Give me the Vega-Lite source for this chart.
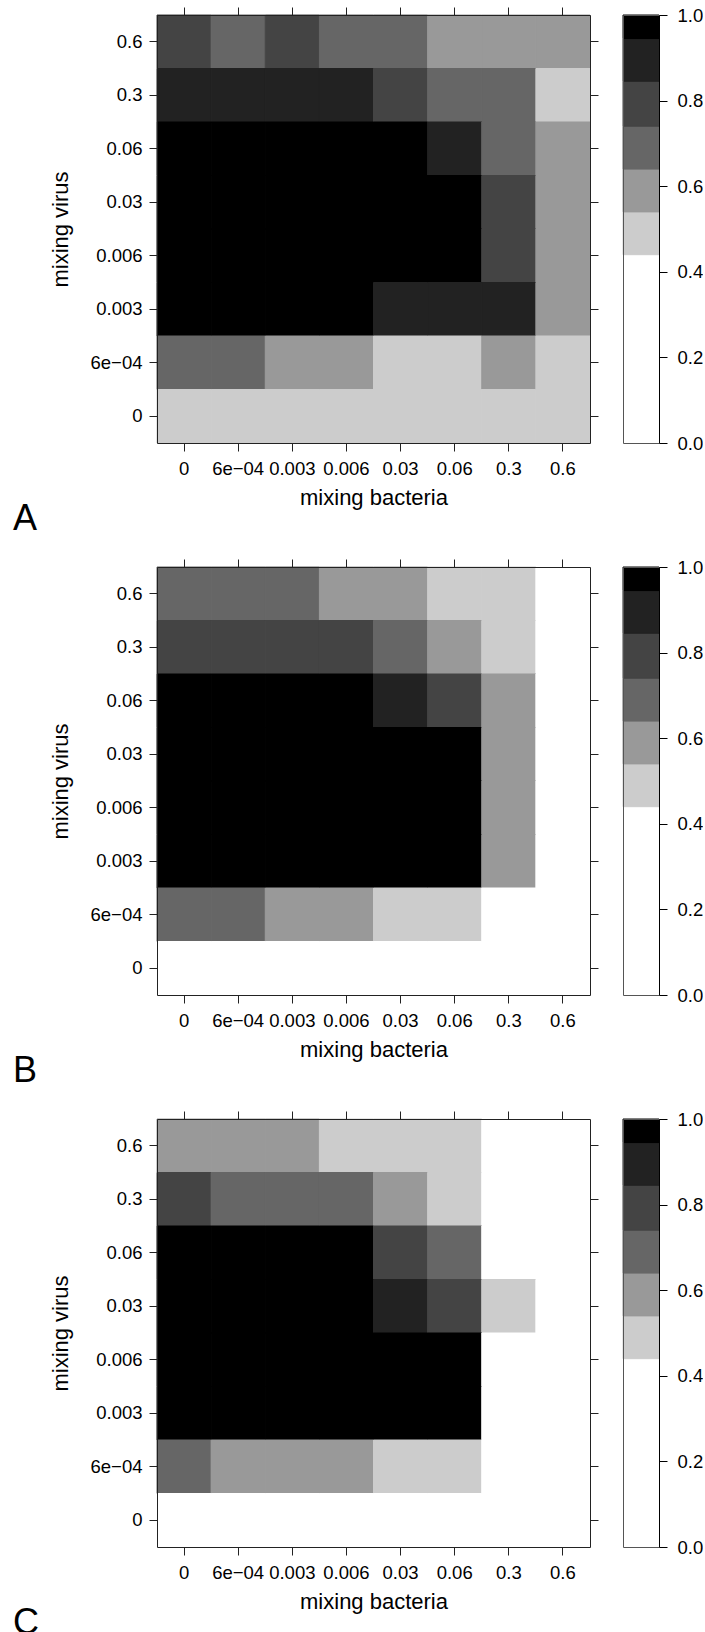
{
 "$schema": "https://vega.github.io/schema/vega-lite/v6.json",
 "padding": {"left": 13, "top": 6, "right": 0, "bottom": 0},
 "background": "white",
 "config": {
  "font": "Liberation Sans",
  "view": {"stroke": null},
  "axis": {"domain": true, "domainColor": "#222", "domainWidth": 1, "grid": false, "tickSize": 8, "tickColor": "#222", "tickWidth": 1, "labelFont": "Liberation Sans", "labelFontSize": 18.5, "labelColor": "#000", "titleFont": "Liberation Sans", "titleFontSize": 22, "titleFontWeight": "normal", "titleColor": "#000"},
  "title": {"font": "Liberation Sans", "fontSize": 36, "fontWeight": "normal", "color": "#000"}
 },
 "datasets": {
  "bins": [
   {"lo": 0, "hi": 0.44, "p": 0.3},
   {"lo": 0.44, "hi": 0.54, "p": 0.5},
   {"lo": 0.54, "hi": 0.64, "p": 0.6},
   {"lo": 0.64, "hi": 0.74, "p": 0.7},
   {"lo": 0.74, "hi": 0.845, "p": 0.8},
   {"lo": 0.845, "hi": 0.945, "p": 0.9},
   {"lo": 0.945, "hi": 1, "p": 0.98}
  ],
  "A": [
   {"v":"0.6","b":"0","p":0.8},{"v":"0.6","b":"6e\u221204","p":0.7},{"v":"0.6","b":"0.003","p":0.8},{"v":"0.6","b":"0.006","p":0.7},{"v":"0.6","b":"0.03","p":0.7},{"v":"0.6","b":"0.06","p":0.6},{"v":"0.6","b":"0.3","p":0.6},{"v":"0.6","b":"0.6","p":0.6},
   {"v":"0.3","b":"0","p":0.9},{"v":"0.3","b":"6e\u221204","p":0.9},{"v":"0.3","b":"0.003","p":0.9},{"v":"0.3","b":"0.006","p":0.9},{"v":"0.3","b":"0.03","p":0.8},{"v":"0.3","b":"0.06","p":0.7},{"v":"0.3","b":"0.3","p":0.7},{"v":"0.3","b":"0.6","p":0.5},
   {"v":"0.06","b":"0","p":0.98},{"v":"0.06","b":"6e\u221204","p":0.98},{"v":"0.06","b":"0.003","p":0.98},{"v":"0.06","b":"0.006","p":0.98},{"v":"0.06","b":"0.03","p":0.98},{"v":"0.06","b":"0.06","p":0.9},{"v":"0.06","b":"0.3","p":0.7},{"v":"0.06","b":"0.6","p":0.6},
   {"v":"0.03","b":"0","p":0.98},{"v":"0.03","b":"6e\u221204","p":0.98},{"v":"0.03","b":"0.003","p":0.98},{"v":"0.03","b":"0.006","p":0.98},{"v":"0.03","b":"0.03","p":0.98},{"v":"0.03","b":"0.06","p":0.98},{"v":"0.03","b":"0.3","p":0.8},{"v":"0.03","b":"0.6","p":0.6},
   {"v":"0.006","b":"0","p":0.98},{"v":"0.006","b":"6e\u221204","p":0.98},{"v":"0.006","b":"0.003","p":0.98},{"v":"0.006","b":"0.006","p":0.98},{"v":"0.006","b":"0.03","p":0.98},{"v":"0.006","b":"0.06","p":0.98},{"v":"0.006","b":"0.3","p":0.8},{"v":"0.006","b":"0.6","p":0.6},
   {"v":"0.003","b":"0","p":0.98},{"v":"0.003","b":"6e\u221204","p":0.98},{"v":"0.003","b":"0.003","p":0.98},{"v":"0.003","b":"0.006","p":0.98},{"v":"0.003","b":"0.03","p":0.9},{"v":"0.003","b":"0.06","p":0.9},{"v":"0.003","b":"0.3","p":0.9},{"v":"0.003","b":"0.6","p":0.6},
   {"v":"6e\u221204","b":"0","p":0.7},{"v":"6e\u221204","b":"6e\u221204","p":0.7},{"v":"6e\u221204","b":"0.003","p":0.6},{"v":"6e\u221204","b":"0.006","p":0.6},{"v":"6e\u221204","b":"0.03","p":0.5},{"v":"6e\u221204","b":"0.06","p":0.5},{"v":"6e\u221204","b":"0.3","p":0.6},{"v":"6e\u221204","b":"0.6","p":0.5},
   {"v":"0","b":"0","p":0.5},{"v":"0","b":"6e\u221204","p":0.5},{"v":"0","b":"0.003","p":0.5},{"v":"0","b":"0.006","p":0.5},{"v":"0","b":"0.03","p":0.5},{"v":"0","b":"0.06","p":0.5},{"v":"0","b":"0.3","p":0.5},{"v":"0","b":"0.6","p":0.5}
  ],
  "B": [
   {"v":"0.6","b":"0","p":0.7},{"v":"0.6","b":"6e\u221204","p":0.7},{"v":"0.6","b":"0.003","p":0.7},{"v":"0.6","b":"0.006","p":0.6},{"v":"0.6","b":"0.03","p":0.6},{"v":"0.6","b":"0.06","p":0.5},{"v":"0.6","b":"0.3","p":0.5},{"v":"0.6","b":"0.6","p":0.3},
   {"v":"0.3","b":"0","p":0.8},{"v":"0.3","b":"6e\u221204","p":0.8},{"v":"0.3","b":"0.003","p":0.8},{"v":"0.3","b":"0.006","p":0.8},{"v":"0.3","b":"0.03","p":0.7},{"v":"0.3","b":"0.06","p":0.6},{"v":"0.3","b":"0.3","p":0.5},{"v":"0.3","b":"0.6","p":0.3},
   {"v":"0.06","b":"0","p":0.98},{"v":"0.06","b":"6e\u221204","p":0.98},{"v":"0.06","b":"0.003","p":0.98},{"v":"0.06","b":"0.006","p":0.98},{"v":"0.06","b":"0.03","p":0.9},{"v":"0.06","b":"0.06","p":0.8},{"v":"0.06","b":"0.3","p":0.6},{"v":"0.06","b":"0.6","p":0.3},
   {"v":"0.03","b":"0","p":0.98},{"v":"0.03","b":"6e\u221204","p":0.98},{"v":"0.03","b":"0.003","p":0.98},{"v":"0.03","b":"0.006","p":0.98},{"v":"0.03","b":"0.03","p":0.98},{"v":"0.03","b":"0.06","p":0.98},{"v":"0.03","b":"0.3","p":0.6},{"v":"0.03","b":"0.6","p":0.3},
   {"v":"0.006","b":"0","p":0.98},{"v":"0.006","b":"6e\u221204","p":0.98},{"v":"0.006","b":"0.003","p":0.98},{"v":"0.006","b":"0.006","p":0.98},{"v":"0.006","b":"0.03","p":0.98},{"v":"0.006","b":"0.06","p":0.98},{"v":"0.006","b":"0.3","p":0.6},{"v":"0.006","b":"0.6","p":0.3},
   {"v":"0.003","b":"0","p":0.98},{"v":"0.003","b":"6e\u221204","p":0.98},{"v":"0.003","b":"0.003","p":0.98},{"v":"0.003","b":"0.006","p":0.98},{"v":"0.003","b":"0.03","p":0.98},{"v":"0.003","b":"0.06","p":0.98},{"v":"0.003","b":"0.3","p":0.6},{"v":"0.003","b":"0.6","p":0.3},
   {"v":"6e\u221204","b":"0","p":0.7},{"v":"6e\u221204","b":"6e\u221204","p":0.7},{"v":"6e\u221204","b":"0.003","p":0.6},{"v":"6e\u221204","b":"0.006","p":0.6},{"v":"6e\u221204","b":"0.03","p":0.5},{"v":"6e\u221204","b":"0.06","p":0.5},{"v":"6e\u221204","b":"0.3","p":0.3},{"v":"6e\u221204","b":"0.6","p":0.3},
   {"v":"0","b":"0","p":0.3},{"v":"0","b":"6e\u221204","p":0.3},{"v":"0","b":"0.003","p":0.3},{"v":"0","b":"0.006","p":0.3},{"v":"0","b":"0.03","p":0.3},{"v":"0","b":"0.06","p":0.3},{"v":"0","b":"0.3","p":0.3},{"v":"0","b":"0.6","p":0.3}
  ],
  "C": [
   {"v":"0.6","b":"0","p":0.6},{"v":"0.6","b":"6e\u221204","p":0.6},{"v":"0.6","b":"0.003","p":0.6},{"v":"0.6","b":"0.006","p":0.5},{"v":"0.6","b":"0.03","p":0.5},{"v":"0.6","b":"0.06","p":0.5},{"v":"0.6","b":"0.3","p":0.3},{"v":"0.6","b":"0.6","p":0.3},
   {"v":"0.3","b":"0","p":0.8},{"v":"0.3","b":"6e\u221204","p":0.7},{"v":"0.3","b":"0.003","p":0.7},{"v":"0.3","b":"0.006","p":0.7},{"v":"0.3","b":"0.03","p":0.6},{"v":"0.3","b":"0.06","p":0.5},{"v":"0.3","b":"0.3","p":0.3},{"v":"0.3","b":"0.6","p":0.3},
   {"v":"0.06","b":"0","p":0.98},{"v":"0.06","b":"6e\u221204","p":0.98},{"v":"0.06","b":"0.003","p":0.98},{"v":"0.06","b":"0.006","p":0.98},{"v":"0.06","b":"0.03","p":0.8},{"v":"0.06","b":"0.06","p":0.7},{"v":"0.06","b":"0.3","p":0.3},{"v":"0.06","b":"0.6","p":0.3},
   {"v":"0.03","b":"0","p":0.98},{"v":"0.03","b":"6e\u221204","p":0.98},{"v":"0.03","b":"0.003","p":0.98},{"v":"0.03","b":"0.006","p":0.98},{"v":"0.03","b":"0.03","p":0.9},{"v":"0.03","b":"0.06","p":0.8},{"v":"0.03","b":"0.3","p":0.5},{"v":"0.03","b":"0.6","p":0.3},
   {"v":"0.006","b":"0","p":0.98},{"v":"0.006","b":"6e\u221204","p":0.98},{"v":"0.006","b":"0.003","p":0.98},{"v":"0.006","b":"0.006","p":0.98},{"v":"0.006","b":"0.03","p":0.98},{"v":"0.006","b":"0.06","p":0.98},{"v":"0.006","b":"0.3","p":0.3},{"v":"0.006","b":"0.6","p":0.3},
   {"v":"0.003","b":"0","p":0.98},{"v":"0.003","b":"6e\u221204","p":0.98},{"v":"0.003","b":"0.003","p":0.98},{"v":"0.003","b":"0.006","p":0.98},{"v":"0.003","b":"0.03","p":0.98},{"v":"0.003","b":"0.06","p":0.98},{"v":"0.003","b":"0.3","p":0.3},{"v":"0.003","b":"0.6","p":0.3},
   {"v":"6e\u221204","b":"0","p":0.7},{"v":"6e\u221204","b":"6e\u221204","p":0.6},{"v":"6e\u221204","b":"0.003","p":0.6},{"v":"6e\u221204","b":"0.006","p":0.6},{"v":"6e\u221204","b":"0.03","p":0.5},{"v":"6e\u221204","b":"0.06","p":0.5},{"v":"6e\u221204","b":"0.3","p":0.3},{"v":"6e\u221204","b":"0.6","p":0.3},
   {"v":"0","b":"0","p":0.3},{"v":"0","b":"6e\u221204","p":0.3},{"v":"0","b":"0.003","p":0.3},{"v":"0","b":"0.006","p":0.3},{"v":"0","b":"0.03","p":0.3},{"v":"0","b":"0.06","p":0.3},{"v":"0","b":"0.3","p":0.3},{"v":"0","b":"0.6","p":0.3}
  ]
 },
 "bounds": "flush",
 "columns": 2,
 "spacing": {"row": 124, "column": 33},
 "resolve": {"scale": {"color": "independent", "stroke": "independent", "x": "independent", "y": "independent"}},
 "concat": [
   {"width": 433, "height": 428, "data": {"name": "A"},
    "title": {"text": "A", "orient": "bottom", "anchor": "start", "frame": "group", "dx": -144, "offset": 22, "baseline": "alphabetic"},
    "layer": [
     {"mark": {"type": "rect", "strokeWidth": 1}, "encoding": {
      "x": {"field": "b", "type": "ordinal", "sort": ["0","6e\u221204","0.003","0.006","0.03","0.06","0.3","0.6"], "scale": {"paddingInner": 0, "paddingOuter": 0}, "axis": {"orient": "bottom", "zindex": 1, "title": "mixing bacteria", "labelAngle": 0, "labelPadding": 8, "titleY": 61, "titleBaseline": "alphabetic"}},
      "y": {"field": "v", "type": "ordinal", "sort": ["0.6","0.3","0.06","0.03","0.006","0.003","6e\u221204","0"], "scale": {"paddingInner": 0, "paddingOuter": 0}, "axis": {"orient": "left", "zindex": 1, "title": "mixing virus", "labelPadding": 7, "titleX": -85, "titleY": 214}},
      "color": {"field": "p", "type": "quantitative", "scale": {"type": "threshold", "domain": [0.44, 0.54, 0.64, 0.74, 0.845, 0.945], "range": ["#ffffff", "#cccccc", "#999999", "#666666", "#444444", "#222222", "#000000"]}, "legend": null},
      "stroke": {"field": "p", "type": "quantitative", "scale": {"type": "threshold", "domain": [0.44, 0.54, 0.64, 0.74, 0.845, 0.945], "range": ["#ffffff", "#cccccc", "#999999", "#666666", "#444444", "#222222", "#000000"]}, "legend": null}}},
     {"mark": {"type": "rect", "opacity": 0}, "encoding": {
      "x": {"field": "b", "type": "ordinal", "sort": ["0","6e\u221204","0.003","0.006","0.03","0.06","0.3","0.6"], "axis": {"orient": "top", "zindex": 1, "labels": false, "title": null}},
      "y": {"field": "v", "type": "ordinal", "sort": ["0.6","0.3","0.06","0.03","0.006","0.003","6e\u221204","0"], "axis": {"orient": "right", "zindex": 1, "labels": false, "title": null}}}}
    ],
    "resolve": {"axis": {"x": "independent", "y": "independent"}}
   },
   {"width": 36, "height": 428, "data": {"name": "bins"},
    "layer": [
     {"mark": {"type": "rect", "strokeWidth": 1}, "encoding": {
      "x": {"datum": 0, "type": "quantitative", "scale": {"domain": [0, 1], "nice": false, "zero": false}, "axis": {"orient": "bottom", "zindex": 1, "domainColor": "#555", "ticks": false, "labels": false, "title": null}},
      "x2": {"datum": 1},
      "y": {"field": "lo", "type": "quantitative", "scale": {"domain": [0, 1], "nice": false, "zero": false}, "axis": {"orient": "right", "zindex": 1, "values": [0, 0.2, 0.4, 0.6, 0.8, 1], "format": ".1f", "title": null, "domainColor": "#000", "labelPadding": 10, "tickColor": "#000"}},
      "y2": {"field": "hi"},
      "color": {"field": "p", "type": "quantitative", "scale": {"type": "threshold", "domain": [0.44, 0.54, 0.64, 0.74, 0.845, 0.945], "range": ["#ffffff", "#cccccc", "#999999", "#666666", "#444444", "#222222", "#000000"]}, "legend": null},
      "stroke": {"field": "p", "type": "quantitative", "scale": {"type": "threshold", "domain": [0.44, 0.54, 0.64, 0.74, 0.845, 0.945], "range": ["#ffffff", "#cccccc", "#999999", "#666666", "#444444", "#222222", "#000000"]}, "legend": null}}},
     {"mark": {"type": "rect", "opacity": 0}, "encoding": {
      "x": {"datum": 0, "type": "quantitative", "axis": {"orient": "top", "zindex": 1, "domainColor": "#555", "ticks": false, "labels": false, "title": null}},
      "x2": {"datum": 1},
      "y": {"field": "lo", "type": "quantitative", "axis": {"orient": "left", "zindex": 1, "domainColor": "#555", "ticks": false, "labels": false, "title": null}},
      "y2": {"field": "hi"}}}
    ],
    "resolve": {"axis": {"x": "independent", "y": "independent"}}
   },
   {"width": 433, "height": 428, "data": {"name": "B"},
    "title": {"text": "B", "orient": "bottom", "anchor": "start", "frame": "group", "dx": -144, "offset": 22, "baseline": "alphabetic"},
    "layer": [
     {"mark": {"type": "rect", "strokeWidth": 1}, "encoding": {
      "x": {"field": "b", "type": "ordinal", "sort": ["0","6e\u221204","0.003","0.006","0.03","0.06","0.3","0.6"], "scale": {"paddingInner": 0, "paddingOuter": 0}, "axis": {"orient": "bottom", "zindex": 1, "title": "mixing bacteria", "labelAngle": 0, "labelPadding": 8, "titleY": 61, "titleBaseline": "alphabetic"}},
      "y": {"field": "v", "type": "ordinal", "sort": ["0.6","0.3","0.06","0.03","0.006","0.003","6e\u221204","0"], "scale": {"paddingInner": 0, "paddingOuter": 0}, "axis": {"orient": "left", "zindex": 1, "title": "mixing virus", "labelPadding": 7, "titleX": -85, "titleY": 214}},
      "color": {"field": "p", "type": "quantitative", "scale": {"type": "threshold", "domain": [0.44, 0.54, 0.64, 0.74, 0.845, 0.945], "range": ["#ffffff", "#cccccc", "#999999", "#666666", "#444444", "#222222", "#000000"]}, "legend": null},
      "stroke": {"field": "p", "type": "quantitative", "scale": {"type": "threshold", "domain": [0.44, 0.54, 0.64, 0.74, 0.845, 0.945], "range": ["#ffffff", "#cccccc", "#999999", "#666666", "#444444", "#222222", "#000000"]}, "legend": null}}},
     {"mark": {"type": "rect", "opacity": 0}, "encoding": {
      "x": {"field": "b", "type": "ordinal", "sort": ["0","6e\u221204","0.003","0.006","0.03","0.06","0.3","0.6"], "axis": {"orient": "top", "zindex": 1, "labels": false, "title": null}},
      "y": {"field": "v", "type": "ordinal", "sort": ["0.6","0.3","0.06","0.03","0.006","0.003","6e\u221204","0"], "axis": {"orient": "right", "zindex": 1, "labels": false, "title": null}}}}
    ],
    "resolve": {"axis": {"x": "independent", "y": "independent"}}
   },
   {"width": 36, "height": 428, "data": {"name": "bins"},
    "layer": [
     {"mark": {"type": "rect", "strokeWidth": 1}, "encoding": {
      "x": {"datum": 0, "type": "quantitative", "scale": {"domain": [0, 1], "nice": false, "zero": false}, "axis": {"orient": "bottom", "zindex": 1, "domainColor": "#555", "ticks": false, "labels": false, "title": null}},
      "x2": {"datum": 1},
      "y": {"field": "lo", "type": "quantitative", "scale": {"domain": [0, 1], "nice": false, "zero": false}, "axis": {"orient": "right", "zindex": 1, "values": [0, 0.2, 0.4, 0.6, 0.8, 1], "format": ".1f", "title": null, "domainColor": "#000", "labelPadding": 10, "tickColor": "#000"}},
      "y2": {"field": "hi"},
      "color": {"field": "p", "type": "quantitative", "scale": {"type": "threshold", "domain": [0.44, 0.54, 0.64, 0.74, 0.845, 0.945], "range": ["#ffffff", "#cccccc", "#999999", "#666666", "#444444", "#222222", "#000000"]}, "legend": null},
      "stroke": {"field": "p", "type": "quantitative", "scale": {"type": "threshold", "domain": [0.44, 0.54, 0.64, 0.74, 0.845, 0.945], "range": ["#ffffff", "#cccccc", "#999999", "#666666", "#444444", "#222222", "#000000"]}, "legend": null}}},
     {"mark": {"type": "rect", "opacity": 0}, "encoding": {
      "x": {"datum": 0, "type": "quantitative", "axis": {"orient": "top", "zindex": 1, "domainColor": "#555", "ticks": false, "labels": false, "title": null}},
      "x2": {"datum": 1},
      "y": {"field": "lo", "type": "quantitative", "axis": {"orient": "left", "zindex": 1, "domainColor": "#555", "ticks": false, "labels": false, "title": null}},
      "y2": {"field": "hi"}}}
    ],
    "resolve": {"axis": {"x": "independent", "y": "independent"}}
   },
   {"width": 433, "height": 428, "data": {"name": "C"},
    "title": {"text": "C", "orient": "bottom", "anchor": "start", "frame": "group", "dx": -144, "offset": 22, "baseline": "alphabetic"},
    "layer": [
     {"mark": {"type": "rect", "strokeWidth": 1}, "encoding": {
      "x": {"field": "b", "type": "ordinal", "sort": ["0","6e\u221204","0.003","0.006","0.03","0.06","0.3","0.6"], "scale": {"paddingInner": 0, "paddingOuter": 0}, "axis": {"orient": "bottom", "zindex": 1, "title": "mixing bacteria", "labelAngle": 0, "labelPadding": 8, "titleY": 61, "titleBaseline": "alphabetic"}},
      "y": {"field": "v", "type": "ordinal", "sort": ["0.6","0.3","0.06","0.03","0.006","0.003","6e\u221204","0"], "scale": {"paddingInner": 0, "paddingOuter": 0}, "axis": {"orient": "left", "zindex": 1, "title": "mixing virus", "labelPadding": 7, "titleX": -85, "titleY": 214}},
      "color": {"field": "p", "type": "quantitative", "scale": {"type": "threshold", "domain": [0.44, 0.54, 0.64, 0.74, 0.845, 0.945], "range": ["#ffffff", "#cccccc", "#999999", "#666666", "#444444", "#222222", "#000000"]}, "legend": null},
      "stroke": {"field": "p", "type": "quantitative", "scale": {"type": "threshold", "domain": [0.44, 0.54, 0.64, 0.74, 0.845, 0.945], "range": ["#ffffff", "#cccccc", "#999999", "#666666", "#444444", "#222222", "#000000"]}, "legend": null}}},
     {"mark": {"type": "rect", "opacity": 0}, "encoding": {
      "x": {"field": "b", "type": "ordinal", "sort": ["0","6e\u221204","0.003","0.006","0.03","0.06","0.3","0.6"], "axis": {"orient": "top", "zindex": 1, "labels": false, "title": null}},
      "y": {"field": "v", "type": "ordinal", "sort": ["0.6","0.3","0.06","0.03","0.006","0.003","6e\u221204","0"], "axis": {"orient": "right", "zindex": 1, "labels": false, "title": null}}}}
    ],
    "resolve": {"axis": {"x": "independent", "y": "independent"}}
   },
   {"width": 36, "height": 428, "data": {"name": "bins"},
    "layer": [
     {"mark": {"type": "rect", "strokeWidth": 1}, "encoding": {
      "x": {"datum": 0, "type": "quantitative", "scale": {"domain": [0, 1], "nice": false, "zero": false}, "axis": {"orient": "bottom", "zindex": 1, "domainColor": "#555", "ticks": false, "labels": false, "title": null}},
      "x2": {"datum": 1},
      "y": {"field": "lo", "type": "quantitative", "scale": {"domain": [0, 1], "nice": false, "zero": false}, "axis": {"orient": "right", "zindex": 1, "values": [0, 0.2, 0.4, 0.6, 0.8, 1], "format": ".1f", "title": null, "domainColor": "#000", "labelPadding": 10, "tickColor": "#000"}},
      "y2": {"field": "hi"},
      "color": {"field": "p", "type": "quantitative", "scale": {"type": "threshold", "domain": [0.44, 0.54, 0.64, 0.74, 0.845, 0.945], "range": ["#ffffff", "#cccccc", "#999999", "#666666", "#444444", "#222222", "#000000"]}, "legend": null},
      "stroke": {"field": "p", "type": "quantitative", "scale": {"type": "threshold", "domain": [0.44, 0.54, 0.64, 0.74, 0.845, 0.945], "range": ["#ffffff", "#cccccc", "#999999", "#666666", "#444444", "#222222", "#000000"]}, "legend": null}}},
     {"mark": {"type": "rect", "opacity": 0}, "encoding": {
      "x": {"datum": 0, "type": "quantitative", "axis": {"orient": "top", "zindex": 1, "domainColor": "#555", "ticks": false, "labels": false, "title": null}},
      "x2": {"datum": 1},
      "y": {"field": "lo", "type": "quantitative", "axis": {"orient": "left", "zindex": 1, "domainColor": "#555", "ticks": false, "labels": false, "title": null}},
      "y2": {"field": "hi"}}}
    ],
    "resolve": {"axis": {"x": "independent", "y": "independent"}}
   }
 ]
}
